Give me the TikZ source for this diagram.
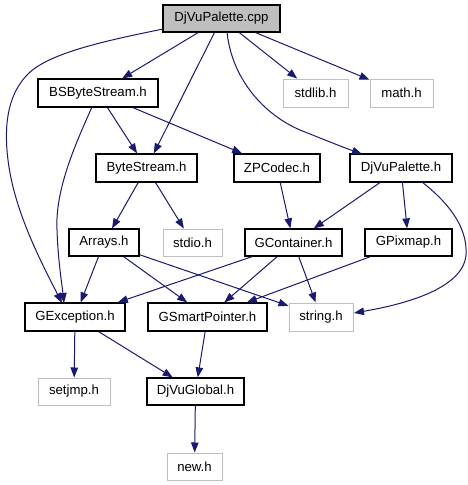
\documentclass[tikz,border=0pt]{standalone}
\usepackage{fontspec}
\setmainfont{Liberation Sans}
\usetikzlibrary{arrows.meta}
\definecolor{edgeblue}{HTML}{191970}
\definecolor{lightgr}{HTML}{BFBFBF}
\tikzset{
  nb/.style={draw=black, line width=1.2pt, inner sep=0pt, font=\fontsize{13.2}{15}\selectfont},
  ng/.style={draw=lightgr, line width=1pt, inner sep=0pt, font=\fontsize{13.2}{15}\selectfont},
  nroot/.style={nb, fill=lightgr},
  e/.style={draw=edgeblue, line width=1pt, -{Triangle[length=10pt,width=7.5pt]}, edgeblue},
}
\begin{document}
\begin{tikzpicture}[x=1pt,y=-1pt]
\useasboundingbox (0,0) rectangle (468,485);
\node[nroot, minimum width=117pt, minimum height=27pt] (cpp) at (221.5,18.5) {DjVuPalette.cpp};
\node[nb, minimum width=120pt, minimum height=28pt] (bsb) at (98,93) {BSByteStream.h};
\node[ng, minimum width=65pt, minimum height=28pt] (stdlib) at (315.5,93) {stdlib.h};
\node[ng, minimum width=63pt, minimum height=28pt] (math) at (401.5,93) {math.h};
\node[nb, minimum width=101pt, minimum height=28pt] (bs) at (146.5,168) {ByteStream.h};
\node[nb, minimum width=86pt, minimum height=28pt] (zp) at (277,168) {ZPCodec.h};
\node[nb, minimum width=102pt, minimum height=28pt] (dpal) at (401,168) {DjVuPalette.h};
\node[nb, minimum width=70pt, minimum height=27pt] (arrays) at (104,242.5) {Arrays.h};
\node[ng, minimum width=59pt, minimum height=27pt] (stdio) at (192.5,242.5) {stdio.h};
\node[nb, minimum width=97pt, minimum height=27pt] (gcont) at (293.5,242.5) {GContainer.h};
\node[nb, minimum width=87pt, minimum height=27pt] (gpix) at (408.5,242.5) {GPixmap.h};
\node[nb, minimum width=100pt, minimum height=28pt] (gexc) at (75,317) {GException.h};
\node[nb, minimum width=119pt, minimum height=28pt] (gsp) at (207.5,317) {GSmartPointer.h};
\node[ng, minimum width=64pt, minimum height=28pt] (string) at (321,317) {string.h};
\node[ng, minimum width=72pt, minimum height=27pt] (setjmp) at (74,391.5) {setjmp.h};
\node[nb, minimum width=97pt, minimum height=27pt] (dglob) at (195.5,391.5) {DjVuGlobal.h};
\node[ng, minimum width=55pt, minimum height=27pt] (new) at (194.5,466.5) {new.h};

\coordinate (c1s) at (163,29);
\coordinate (c1e) at (62,303);
\coordinate (c2s) at (92,107);
\coordinate (c2e) at (64,303);
\coordinate (c3s) at (422,182);
\coordinate (c3e) at (354,313);
\coordinate (c4s) at (227,32);
\coordinate (c4e) at (362,154);

\draw[e] (cpp) -- (bsb);
\draw[e] (cpp) -- (stdlib);
\draw[e] (cpp) -- (math);
\draw[e] (cpp) -- (bs);
\draw[e] (c4s) .. controls (232,80) and (265,115) .. (300,130) .. controls (325,140) and (345,148) .. (c4e);
\draw[e] (c1s) .. controls (110,40) and (50,52) .. (28,74) .. controls (10,92) and (3,120) .. (8,160) .. controls (14,210) and (40,260) .. (c1e);
\draw[e] (bsb) -- (bs);
\draw[e] (bsb) -- (zp);
\draw[e] (c2s) .. controls (75,145) and (55,190) .. (57,230) .. controls (58,260) and (62,285) .. (c2e);
\draw[e] (bs) -- (arrays);
\draw[e] (bs) -- (stdio);
\draw[e] (zp) -- (gcont);
\draw[e] (dpal) -- (gcont);
\draw[e] (dpal) -- (gpix);
\draw[e] (c3s) .. controls (445,200) and (468,225) .. (466,255) .. controls (463,290) and (400,305) .. (c3e);
\draw[e] (arrays) -- (gexc);
\draw[e] (arrays) -- (gsp);
\draw[e] (arrays) -- (string);
\draw[e] (gcont) -- (gexc);
\draw[e] (gcont) -- (gsp);
\draw[e] (gcont) -- (string);
\draw[e] (gpix) -- (gsp);
\draw[e] (gexc) -- (setjmp);
\draw[e] (gexc) -- (dglob);
\draw[e] (gsp) -- (dglob);
\draw[e] (dglob) -- (new);
\end{tikzpicture}
\end{document}
